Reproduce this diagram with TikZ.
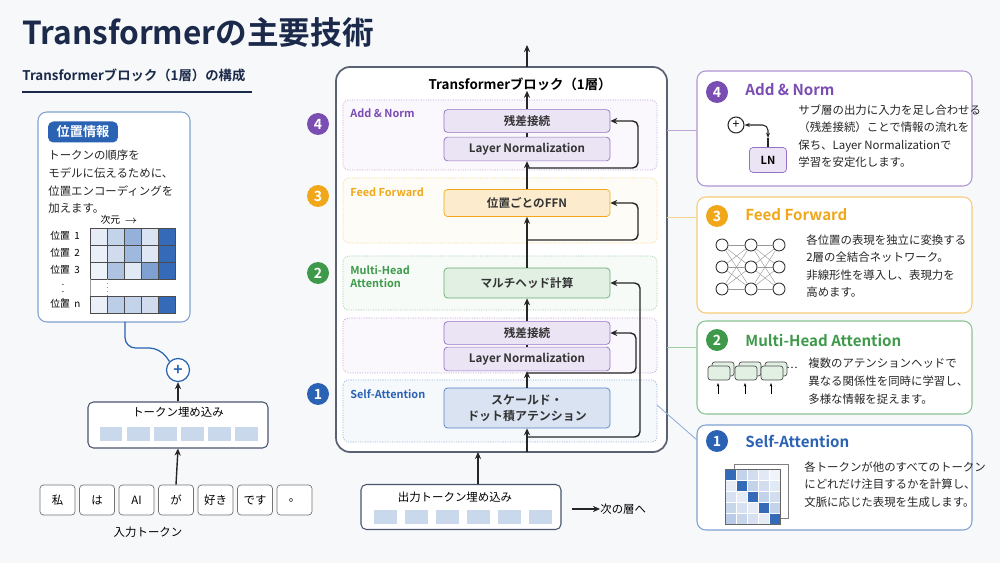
\documentclass[tikz,border=0pt]{standalone}
\usepackage{fontspec}
\setmainfont{Noto Sans CJK JP}[BoldFont=* Bold]
\usetikzlibrary{arrows.meta,positioning,calc}
\definecolor{navy}{HTML}{1B2A4A}
\definecolor{cblue}{HTML}{2A62B4}
\definecolor{cpurple}{HTML}{7A4DB3}
\definecolor{cyellow}{HTML}{F0A81A}
\definecolor{cgreen}{HTML}{3E9A4A}
\definecolor{bgc}{HTML}{F7F8FA}
\definecolor{edgec}{HTML}{5A6272}
\tikzset{
  txt/.style={font=\fontsize{6.5}{10}\selectfont, text=black!85, align=left, anchor=north west, inner sep=0pt},
  ibox/.style={rounded corners=2pt, minimum width=3.32cm, font=\fontsize{6.6}{8}\selectfont\bfseries, text=black!80, align=center},
  pbox/.style={ibox, draw=cpurple!80, fill=cpurple!15, minimum height=0.44cm},
  sub/.style={draw=#1!50, dash pattern=on 0.6pt off 0.8pt, fill=#1!4, rounded corners=3pt},
  num/.style={circle, fill=#1, text=white, minimum size=0.44cm, inner sep=0pt, font=\fontsize{8}{8}\selectfont\bfseries},
  plab/.style={font=\fontsize{6.2}{7.5}\selectfont\bfseries, text=#1, anchor=north west, align=left, inner sep=0pt},
  rtitle/.style={font=\fontsize{8.6}{9}\selectfont\bfseries, text=#1, anchor=west, inner sep=0pt},
  card/.style={draw=#1!60, fill=white, rounded corners=5pt, line width=0.6pt},
  tok/.style={draw=black!55, fill=white, rounded corners=2pt, minimum width=0.7cm, minimum height=0.6cm, font=\fontsize{6.5}{8}\selectfont},
  sq/.style={fill=cblue!25, minimum width=0.46cm, minimum height=0.3cm, inner sep=0pt},
  arr/.style={-{Stealth[length=4pt,width=3.5pt]}, line width=0.8pt, black!85},
}
\begin{document}
\begin{tikzpicture}[x=0.02cm, y=-0.02cm]
\fill[bgc] (0,0) rectangle (1000,563);
\useasboundingbox (0,0) rectangle (1000,563);

% title
\node[anchor=west, inner sep=0pt, font=\fontsize{18}{20}\selectfont\bfseries, text=navy] (title) at (22,33) {Transformerの主要技術};
\node[anchor=west, inner sep=0pt, font=\fontsize{7.6}{9}\selectfont\bfseries, text=navy] (subtitle) at (22,75) {Transformerブロック（1層）の構成};
\draw[navy, line width=0.6pt] (22,92) -- (252,92);

% left: positional info panel
\draw[card=cblue] (38,112) rectangle (190,322);
\node[fill=cblue, text=white, rounded corners=3pt, minimum width=1.4cm, minimum height=0.42cm, inner sep=0pt, font=\fontsize{7.5}{8}\selectfont\bfseries] (poslab) at (83,132) {位置情報};
\node[txt] (postxt) at (48,150) {トークンの順序を\\モデルに伝えるために、\\位置エンコーディングを\\加えます。};
\node[font=\fontsize{5.6}{6}\selectfont, inner sep=0pt] (dim) at (119,220) {次元 \ $\rightarrow$};
\foreach \r/\y/\lab in {0/236/1,1/253/2,2/270/3,3/304/n}{
  \node[font=\fontsize{5.6}{6}\selectfont, anchor=west, inner sep=0pt] (pl\r) at (50,\y) {位置\ \ \lab};
}
\node[font=\fontsize{5}{5}\selectfont, inner sep=0pt] (vdots) at (63,287) {$\vdots$};
\foreach \row/\y/\vals in {0/228/{12,28,50,18,95},1/245/{10,22,45,15,95},2/262/{8,38,14,60,95},3/296/{10,32,28,22,95}}{
  \foreach \v [count=\c from 0] in \vals {
    \draw[black!70, line width=0.4pt, fill=cblue!\v] (90+\c*17,\y) rectangle (107+\c*17,\y+17);
  }
}
\draw[black!40, line width=0.3pt] (90,279) -- (90,296);
\draw[black!40, dotted, line width=0.3pt] (107,279) -- (107,296);

\node[circle, draw=cblue, fill=white, line width=0.7pt, minimum size=0.46cm, inner sep=0pt, font=\fontsize{9}{9}\selectfont\bfseries, text=cblue] (plus) at (178,370) {+};
\draw[cblue, line width=0.7pt, rounded corners=6pt] (125,322) -- (125,348) -- (160,348) -- (plus.north west);

% token embedding
\node[draw=navy!80, fill=white, rounded corners=3pt, line width=0.6pt, minimum width=3.6cm, minimum height=0.92cm] (emb) at (178,425) {};
\node[font=\fontsize{6.5}{8}\selectfont, inner sep=0pt] (embt) at (178,412) {トークン埋め込み};
\foreach \i in {0,...,5}{ \node[sq] (es\i) at (111+\i*27,434) {}; }
\draw[arr] (emb.north) -- (plus.south);

% tokens
\foreach \t [count=\i from 0] in {私,は,AI,が,好き,です,。}{
  \node[tok] (t\i) at (57.5+\i*39.5,500) {\t};
}
\draw[arr] (t3.north) -- (emb.south);
\node[font=\fontsize{6.5}{8}\selectfont, inner sep=0pt] (inlab) at (148,532) {入力トークン};

% center: transformer block
\draw[edgec, line width=1pt, rounded corners=8pt, fill=white] (336,67) rectangle (667,452);
\node[font=\fontsize{7.6}{9}\selectfont\bfseries, inner sep=0pt] (blk) at (520,84) {Transformerブロック（1層）};
\coordinate (top) at (527,67);
\coordinate (out) at (527,45);
\draw[arr] (top) -- (out);

\draw[sub=cpurple] (343,100) rectangle (657,170);
\draw[sub=cyellow] (343,178) rectangle (657,243);
\draw[sub=cgreen] (343,256) rectangle (657,310);
\draw[sub=cpurple] (343,318) rectangle (657,373);
\draw[sub=cblue] (343,380) rectangle (657,442);

\node[plab=cpurple] (l4) at (350,108) {Add \& Norm};
\node[plab=cyellow] (l3) at (350,187) {Feed Forward};
\node[plab=cgreen] (l2) at (350,265) {Multi-Head\\Attention};
\node[plab=cblue] (l1) at (350,389) {Self-Attention};

\node[num=cpurple] (n4) at (318,124) {4};
\node[num=cyellow] (n3) at (318,196) {3};
\node[num=cgreen] (n2) at (318,273) {2};
\node[num=cblue] (n1) at (318,394) {1};

\node[pbox] (res2) at (527,121) {残差接続};
\node[pbox] (ln2) at (527,149) {Layer Normalization};
\node[ibox, draw=cyellow, fill=cyellow!22, minimum height=0.54cm] (ffn) at (527,203) {位置ごとのFFN};
\node[ibox, draw=cgreen!80, fill=cgreen!15, minimum height=0.6cm] (mh) at (527,283) {マルチヘッド計算};
\node[pbox] (res1) at (527,333) {残差接続};
\node[pbox] (ln1) at (527,359) {Layer Normalization};
\node[ibox, draw=cblue!80, fill=cblue!18, minimum height=0.8cm, font=\fontsize{6.8}{9}\selectfont\bfseries] (sa) at (527,408) {スケールド・\\ドット積アテンション};

\coordinate (bin) at (527,452);
\draw[arr] (bin) -- (sa.south);
\draw[arr] (sa.north) -- (ln1.south);
\draw[black!85, line width=0.8pt] (ln1.north) -- (res1.south);
\draw[arr] (res1.north) -- (mh.south);
\draw[arr] (mh.north) -- (ffn.south);
\draw[arr] (ffn.north) -- (ln2.south);
\draw[black!85, line width=0.8pt] (ln2.north) -- (res2.south);
\draw[arr] (res2.north) -- (blk.south -| res2.north);

% residual loops
\draw[arr, rounded corners=3pt] (527,437) -- (640,437) -- (640,283) -- (mh.east);
\draw[arr, rounded corners=3pt] (527,373) -- (636,373) -- (636,333) -- (res1.east);
\draw[arr, rounded corners=3pt] (527,240) -- (638,240) -- (638,203) -- (ffn.east);
\draw[arr, rounded corners=3pt] (527,168) -- (638,168) -- (638,121) -- (res2.east);

% output embedding
\node[draw=navy!80, fill=white, rounded corners=3pt, line width=0.6pt, minimum width=4cm, minimum height=0.9cm] (oemb) at (461,507) {};
\node[font=\fontsize{6.5}{8}\selectfont, inner sep=0pt] (oembt) at (455,497) {出力トークン埋め込み};
\foreach \i in {0,...,5}{ \node[sq] (os\i) at (385+\i*31,517) {}; }
\draw[arr] (oemb.north -| 478,0) -- (478,452);
\node[font=\fontsize{6.5}{8}\selectfont, anchor=west, inner sep=0pt] (nextl) at (600,509) {次の層へ};
\coordinate (na) at (572,509);
\draw[arr, line width=0.7pt] (na) -- (nextl.west);

% right cards
\draw[card=cpurple] (697,71) rectangle (972,186);
\draw[card=cyellow] (697,197) rectangle (972,313);
\draw[card=cgreen] (697,321) rectangle (972,414);
\draw[card=cblue] (697,425) rectangle (972,530);

\foreach \y/\ya/\c in {130/130/cpurple,217/217/cyellow,347/347/cgreen}{
  \draw[\c!50, line width=0.5pt] (667,\ya) -- (697,\y);
}
\draw[cblue!50, line width=0.5pt] (657,405) -- (697,440);

% card 4
\node[num=cpurple] (c4) at (717,92) {4};
\node[rtitle=cpurple] (c4t) at (745,90) {Add \& Norm};
\node[circle, draw=black!85, line width=0.6pt, minimum size=0.32cm, inner sep=0pt, font=\fontsize{7}{7}\selectfont] (cplus) at (736,125) {+};
\node[draw=cpurple!80, fill=cpurple!15, rounded corners=2pt, minimum width=0.74cm, minimum height=0.5cm, font=\fontsize{6.3}{7}\selectfont\bfseries] (cln) at (768,160) {LN};
\draw[black!85, line width=0.6pt, {Stealth[length=3pt]}-{Stealth[length=3pt]}, rounded corners=3pt] (cplus.east) -- (768,125) -- (768,138);
\draw[black!85, line width=0.6pt] (768,138) -- (cln.north);
\node[txt] (c4x) at (798,104) {サブ層の出力に入力を足し合わせる\\（残差接続）ことで情報の流れを\\保ち、Layer Normalizationで\\学習を安定化します。};

% card 3
\node[num=cyellow] (c3) at (717,216) {3};
\node[rtitle=cyellow] (c3t) at (745,215) {Feed Forward};
\foreach \i/\x in {0/722,1/751,2/779}{
  \foreach \j/\y in {0/245,1/267,2/289}{
    \node[circle, draw=black!80, fill=white, line width=0.5pt, minimum size=0.24cm, inner sep=0pt] (nn\i\j) at (\x,\y) {};
  }
}
\foreach \j in {0,1,2}{ \foreach \k in {0,1,2}{
  \draw[black!40, line width=0.25pt] (nn0\j) -- (nn1\k);
  \draw[black!40, line width=0.25pt] (nn1\j) -- (nn2\k);
}}
\node[txt] (c3x) at (806,234) {各位置の表現を独立に変換する\\2層の全結合ネットワーク。\\非線形性を導入し、表現力を\\高めます。};

% card 2
\node[num=cgreen] (c2) at (717,340) {2};
\node[rtitle=cgreen] (c2t) at (745,340) {Multi-Head Attention};
\foreach \i/\x in {0/718,1/745,2/771}{
  \draw[black!70, fill=cgreen!15, rounded corners=1.5pt, line width=0.4pt] (\x-6,362) rectangle (\x+16,376);
  \draw[black!70, fill=cgreen!15, rounded corners=1.5pt, line width=0.4pt] (\x-10,366) rectangle (\x+12,380);
  \coordinate (ha\i) at (\x,394);
  \coordinate (hb\i) at (\x,383);
  \draw[-{Stealth[length=2pt]}, line width=0.4pt] (ha\i) -- (hb\i);
}
\node[font=\fontsize{6}{6}\selectfont, inner sep=0pt] (hdots) at (792,368) {…};
\node[txt] (c2x) at (808,358) {複数のアテンションヘッドで\\異なる関係性を同時に学習し、\\多様な情報を捉えます。};

% card 1
\node[num=cblue] (c1) at (717,441) {1};
\node[rtitle=cblue] (c1t) at (745,441) {Self-Attention};
\draw[black!50, fill=white, line width=0.4pt] (734,464) rectangle (788,518);
\foreach \r in {0,...,4}{ \foreach \c in {0,...,4}{
  \pgfmathtruncatemacro\v{\r==\c ? 95 : mod(\r*37+\c*53,30)+5}
  \draw[white, line width=0.3pt, fill=cblue!\v] (725+\c*11,469+\r*11) rectangle (736+\c*11,480+\r*11);
}}
\draw[black!60, line width=0.4pt] (725,469) rectangle (780,524);
\node[txt] (c1x) at (804,461) {各トークンが他のすべてのトークン\\にどれだけ注目するかを計算し、\\文脈に応じた表現を生成します。};
\end{tikzpicture}
\end{document}
